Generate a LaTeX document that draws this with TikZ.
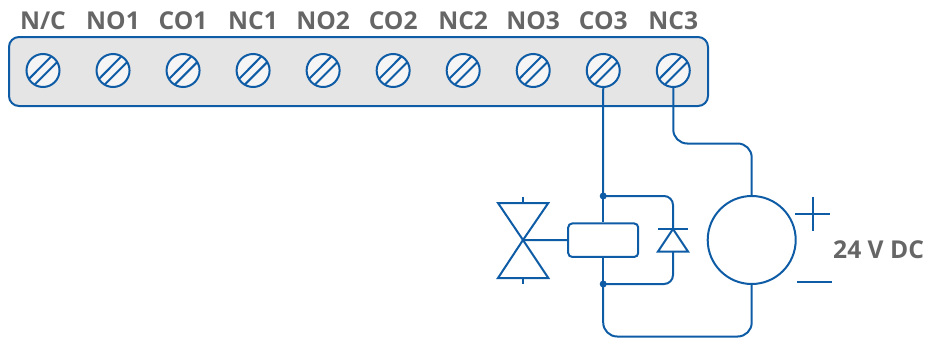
\documentclass[tikz,border=0pt]{standalone}
\usepackage{fontspec}
\setmainfont{Open Sans}
\definecolor{wire}{HTML}{0F5CA6}
\definecolor{labelgray}{HTML}{666666}
\definecolor{boxfill}{HTML}{E5E5E5}
\definecolor{screwfill}{HTML}{F5F5F5}
\tikzset{
  wireline/.style={draw=wire,line width=2pt},
  bus/.style={wireline,rounded corners=14pt},
  strip/.style={draw=wire,line width=2pt,fill=boxfill,rounded corners=10pt},
  screw/.style={circle,draw=wire,line width=2pt,fill=screwfill,minimum size=33pt,inner sep=0pt},
  termlabel/.style={anchor=base,text=labelgray,font=\fontsize{24.6}{24.6}\selectfont\bfseries,inner sep=0pt},
  junction/.style={circle,fill=wire,minimum size=7pt,inner sep=0pt},
  coilbox/.style={draw=wire,line width=2pt,fill=white,rounded corners=4pt,minimum width=70pt,minimum height=33.5pt,inner sep=0pt},
  source/.style={circle,draw=wire,line width=2pt,fill=white,minimum size=88pt,inner sep=0pt}
}
\begin{document}
\begin{tikzpicture}[x=1pt,y=-1pt]
\useasboundingbox (0,0) rectangle (925,340);
\draw[strip] (9,37) rectangle (708,106);
\foreach \n/\t [count=\i from 0] in {a/N\slash C,b/NO1,c/CO1,d/NC1,e/NO2,f/CO2,g/NC2,h/NO3,j/CO3,k/NC3}{
  \pgfmathsetmacro{\xx}{43+70.03*\i}
  \node[termlabel] (lab\n) at (\xx,29) {\t};
  \node[screw] (s\n) at (\xx,70.5) {};
  \draw[wireline,shift={(\xx,70.5)}] (-14.2,8.6) -- (8.4,-14.2) (-8.4,14.2) -- (14.2,-8.4);
}
% junctions and coil
\node[coilbox] (coil) at (603.2,240.2) {};
\node[junction] (jt) at (603.2,196) {};
\node[junction] (jb) at (603.2,284) {};
\node[source] (src) at (751.7,240) {};
% wires
\draw[wireline] (sj.south) -- (jt.center);
\draw[wireline] (jt.center) -- (coil.north);
\draw[wireline] (coil.south) -- (jb.center);
\draw[bus] (sk.south) |- (751.7,143.5) -- (src.north);
\draw[bus] (jb.center) |- (751.7,336.5) -- (src.south);
% diode
\coordinate (da) at (673,229);
\coordinate (db) at (673,251.5);
\draw[wireline] (658,229) -- (688,229);
\draw[wireline,line join=miter] (da) -- (658,251.5) -- (688,251.5) -- cycle;
\draw[bus,rounded corners=9pt] (jt.center) -| (da);
\draw[bus,rounded corners=9pt] (jb.center) -| (db);
% valve
\coordinate (apex) at (523,240);
\draw[wireline,line join=miter] (apex) -- (498,203) -- (548.3,203) -- cycle;
\draw[wireline,line join=miter] (apex) -- (498,278) -- (548.3,278) -- cycle;
\draw[wireline] (523,196.5) -- (523,203);
\draw[wireline] (523,278) -- (523,284);
\draw[wireline] (apex) -- (coil.west);
% polarity
\draw[wireline] (795.3,213.7) -- (830,213.7);
\draw[wireline] (812.7,196.5) -- (812.7,231);
\draw[wireline] (797,282) -- (832,282);
\node[termlabel,anchor=base west] (dc) at (833,258.5) {24 V DC};
\end{tikzpicture}
\end{document}
